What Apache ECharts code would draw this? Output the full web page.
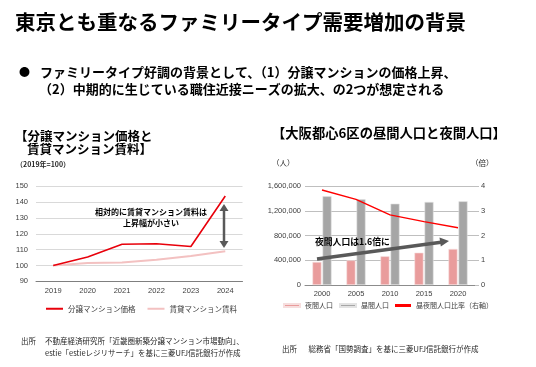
<!DOCTYPE html>
<html>
<head>
<meta charset="utf-8">
<script src="https://cdn.jsdelivr.net/npm/echarts@6/dist/echarts.min.js"></script>
<style>
html,body{margin:0;padding:0;background:#fff;}
#c{width:536px;height:367px;}
</style>
</head>
<body>
<div id="c"></div>
<script>
// ---- Data ----
var priceYears = ['2019', '2020', '2021', '2022', '2023', '2024'];
var condoPrice = [100, 105.3, 113.4, 113.7, 112.0, 143.9];
var condoRent = [100, 101.5, 101.9, 103.6, 106.0, 109.0];
var priceTicks = { min: 90, max: 150, interval: 10 };

var popYears = ['2000', '2005', '2010', '2015', '2020'];
var nightPop = [373000, 400000, 465000, 524000, 584000];
var dayPop = [1438000, 1390000, 1318000, 1346000, 1357000];
var dayNightRatio = [3.85, 3.47, 2.84, 2.57, 2.32];
var popTicks = { min: 0, max: 1600000, interval: 400000 };
var ratioTicks = { min: 0, max: 4, interval: 1 };

var JP = '"Liberation Sans", "Noto Sans CJK JP", sans-serif';
var JPB = '"Noto Sans CJK JP", "Liberation Sans", sans-serif';

var chart = echarts.init(document.getElementById('c'), null, { renderer: 'canvas' });

function txt(x, y, s, size, opts) {
  opts = opts || {};
  return {
    type: 'text', x: x, y: y, z: 100,
    style: {
      text: s, fontSize: size, fontFamily: opts.family || JPB,
      fontWeight: opts.weight || 'normal', fill: opts.color || '#000',
      align: opts.align || 'left', verticalAlign: 'middle',
      textAlign: opts.align || 'left', textVerticalAlign: 'middle'
    }
  };
}

var option = {
  animation: false,
  backgroundColor: '#fff',
  textStyle: { fontFamily: JP },
  grid: [
    { left: 36, right: 293.5, top: 186.3, bottom: 85.7 },
    { left: 305, right: 61, top: 186.3, bottom: 82 }
  ],
  legend: [
    {
      left: 46, top: 305, padding: 0, itemWidth: 17, itemHeight: 2, icon: 'rect', itemGap: 12,
      textStyle: { fontSize: 7.5, color: '#404040', fontFamily: JPB },
      data: ['分譲マンション価格', '賃貸マンション賃料']
    },
    {
      left: 283, top: 302, padding: 0, itemWidth: 16, itemHeight: 3, icon: 'rect', itemGap: 6,
      textStyle: { fontSize: 7, color: '#404040', fontFamily: JPB },
      data: ['夜間人口', '昼間人口', '昼夜間人口比率（右軸）']
    }
  ],
  xAxis: [
    {
      type: 'category', gridIndex: 0, data: priceYears, boundaryGap: true,
      axisLine: { lineStyle: { color: '#7f7f7f', width: 1 } },
      axisTick: { show: false },
      axisLabel: { fontSize: 7.5, color: '#404040', margin: 6 }
    },
    {
      type: 'category', gridIndex: 1, data: popYears, boundaryGap: true,
      axisLine: { lineStyle: { color: '#8c8c8c', width: 1 } },
      axisTick: { show: false },
      axisLabel: { fontSize: 7.5, color: '#404040', margin: 5 }
    }
  ],
  yAxis: [
    {
      type: 'value', gridIndex: 0, min: priceTicks.min, max: priceTicks.max, interval: priceTicks.interval,
      axisLine: { show: false }, axisTick: { show: false },
      splitLine: { lineStyle: { color: '#d9d9d9', width: 1 } },
      axisLabel: { fontSize: 7.5, color: '#404040', margin: 8 }
    },
    {
      type: 'value', gridIndex: 1, min: popTicks.min, max: popTicks.max, interval: popTicks.interval,
      axisLine: { show: false }, axisTick: { show: false },
      splitLine: { lineStyle: { color: '#bfbfbf', width: 1 } },
      axisLabel: {
        fontSize: 7.5, color: '#404040', margin: 4,
        formatter: function (v) { return v.toLocaleString('en-US'); }
      }
    },
    {
      type: 'value', gridIndex: 1, position: 'right', min: ratioTicks.min, max: ratioTicks.max, interval: ratioTicks.interval,
      axisLine: { show: false },
      axisTick: { show: true, length: 4, lineStyle: { color: '#bfbfbf' } },
      splitLine: { show: false },
      axisLabel: { fontSize: 7.5, color: '#404040', margin: 6 }
    }
  ],
  series: [
    {
      name: '賃貸マンション賃料', type: 'line', xAxisIndex: 0, yAxisIndex: 0,
      data: condoRent, symbol: 'none', z: 2,
      itemStyle: { color: '#f3c1c1' },
      lineStyle: { color: '#f3c1c1', width: 2 }
    },
    {
      name: '分譲マンション価格', type: 'line', xAxisIndex: 0, yAxisIndex: 0,
      data: condoPrice, symbol: 'none', z: 3,
      itemStyle: { color: '#e8000b' },
      lineStyle: { color: '#e8000b', width: 1.6 }
    },
    {
      name: '夜間人口', type: 'bar', xAxisIndex: 1, yAxisIndex: 1,
      data: nightPop, barWidth: 9, barGap: '12%',
      itemStyle: { color: '#e99c9c', borderColor: '#f6dede', borderWidth: 0.6 }
    },
    {
      name: '昼間人口', type: 'bar', xAxisIndex: 1, yAxisIndex: 1,
      data: dayPop, barWidth: 9, barGap: '12%',
      itemStyle: { color: '#a6a6a6', borderColor: '#e3e3e3', borderWidth: 0.6 }
    },
    {
      name: '昼夜間人口比率（右軸）', type: 'line', xAxisIndex: 1, yAxisIndex: 2,
      data: dayNightRatio, symbol: 'none', z: 5,
      itemStyle: { color: '#ff0000' },
      lineStyle: { color: '#ff0000', width: 1.4 }
    }
  ],
  graphic: [
    txt(15, 22, '東京とも重なるファミリータイプ需要増加の背景', 20.5, { weight: 'bold' }),
    txt(19, 72, '●', 11, {}),
    txt(40, 72, 'ファミリータイプ好調の背景として、（1）分譲マンションの価格上昇、', 13, { weight: 'bold' }),
    txt(39, 89.5, '（2）中期的に生じている職住近接ニーズの拡大、の2つが想定される', 13, { weight: 'bold' }),

    txt(15, 136.5, '【分譲マンション価格と', 12.5, { weight: 'bold' }),
    txt(27, 149.5, '賃貸マンション賃料】', 12.5, { weight: 'bold' }),
    txt(16, 164, '（2019年=100）', 7, { weight: 'bold', color: '#262626' }),

    txt(272, 133, '【大阪都心6区の昼間人口と夜間人口】', 13.3, { weight: 'bold' }),
    txt(272, 163, '（人）', 7.5, { color: '#262626' }),
    txt(471, 163, '（倍）', 7.5, { color: '#262626' }),

    // left annotation
    txt(151, 212, '相対的に賃貸マンション賃料は', 8, { weight: 'bold', align: 'center' }),
    txt(151, 223, '上昇幅が小さい', 8, { weight: 'bold', align: 'center' }),
    { type: 'line', z: 90, shape: { x1: 224, y1: 210, x2: 224, y2: 242 }, style: { stroke: '#595959', lineWidth: 2.5 } },
    { type: 'polygon', z: 90, shape: { points: [[219.5, 211], [228.5, 211], [224, 204]] }, style: { fill: '#595959' } },
    { type: 'polygon', z: 90, shape: { points: [[219.5, 241], [228.5, 241], [224, 248]] }, style: { fill: '#595959' } },

    // right annotation
    txt(315, 242, '夜間人口は1.6倍に', 8.8, { weight: 'bold' }),
    { type: 'line', z: 90, shape: { x1: 317, y1: 259, x2: 441, y2: 242.2 }, style: { stroke: '#595959', lineWidth: 3.5 } },
    { type: 'polygon', z: 90, shape: { points: [[439.5, 237.5], [449, 241], [440.8, 246.6]] }, style: { fill: '#595959' } },

    // sources
    txt(21, 341, '出所', 7.5, { color: '#262626' }),
    txt(45, 341, '不動産経済研究所「近畿圏新築分譲マンション市場動向」、', 7.5, { color: '#262626' }),
    txt(45, 353.5, 'estie「estieレジリサーチ」を基に三菱UFJ信託銀行が作成', 7.5, { color: '#262626' }),
    txt(282, 349, '出所', 7.5, { color: '#262626' }),
    txt(308.5, 349, '総務省「国勢調査」を基に三菱UFJ信託銀行が作成', 7.5, { color: '#262626' })
  ]
};
chart.setOption(option);
</script>
</body>
</html>
